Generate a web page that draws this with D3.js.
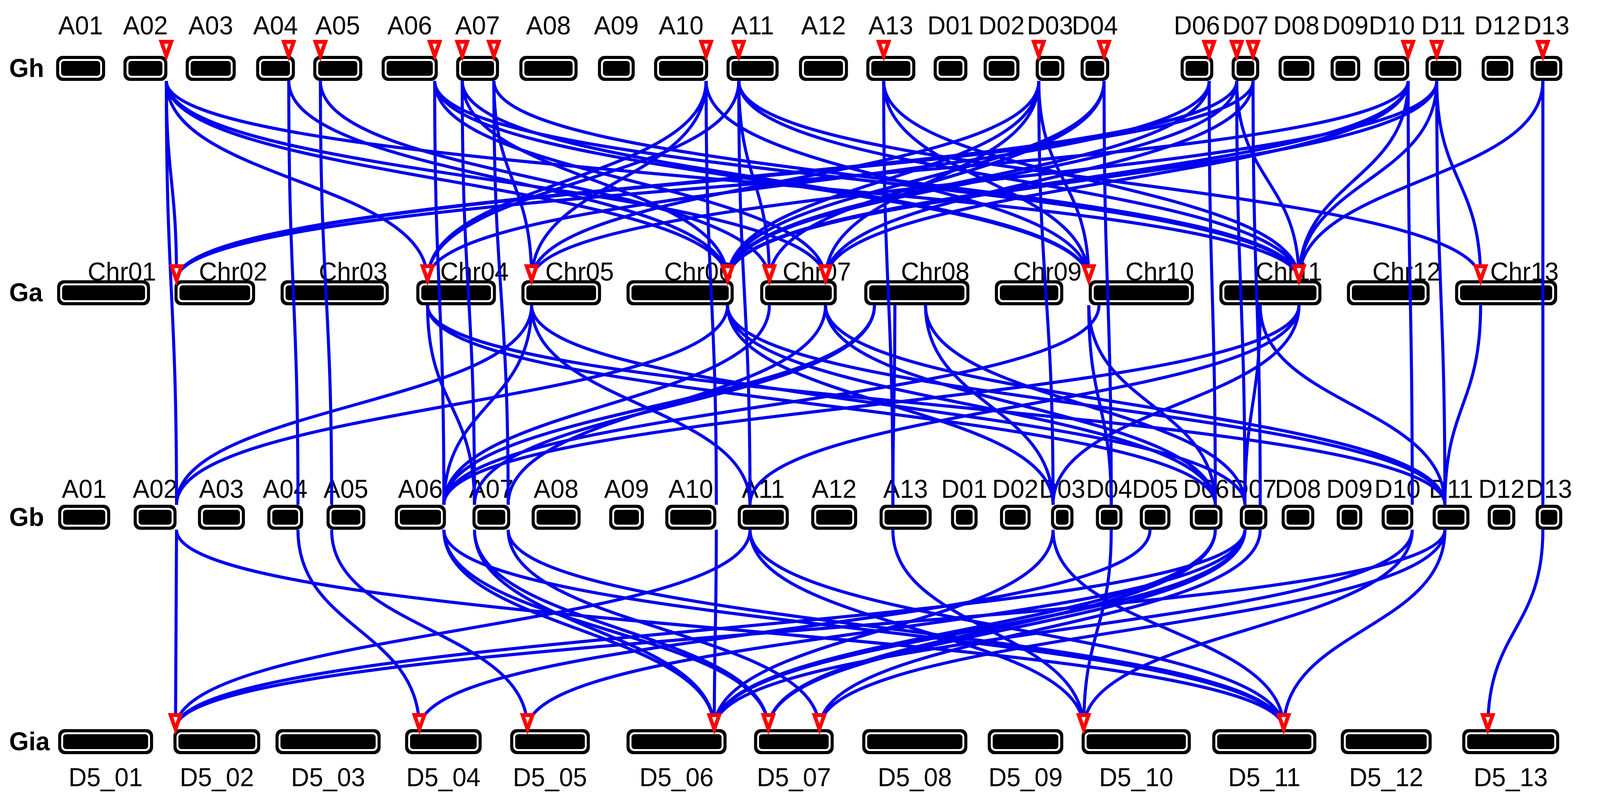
<!DOCTYPE html>
<html><head><meta charset="utf-8">
<script src="https://cdn.jsdelivr.net/npm/d3@7"></script>
<style>html,body{margin:0;padding:0;background:#fff;overflow:hidden;width:100%;height:100%}svg{display:block;width:100vw;height:100vh}</style>
</head><body>
<script>
// ---- data: chromosome layout (genome-layout units, start/end) ----
const genomes = ["Gh","Ga","Gb","Gia"];
const ghChr = [["A01",55,103],["A02",121,164],["A03",182,231],["A04",251,289],["A05",307,355],["A06",374,429],["A07",447,489],["A08",509,566],["A09",586,622],["A10",641,694],["A11",712,763],["A12",783,831],["A13",849,897],["D01",915,948],["D02",964,999],["D03",1015,1043],["D04",1059,1087],["D06",1157,1189],["D07",1207,1234],["D08",1253,1288],["D09",1304,1333],["D10",1347,1381],["D11",1397,1432],["D12",1452,1483],["D13",1500,1531]];
const gaChr = [["Chr01",56,147],["Chr02",171,250],["Chr03",275,381],["Chr04",408,486],["Chr05",511,589],["Chr06",614,719],["Chr07",745,820],["Chr08",847,950],["Chr09",975,1042],["Chr10",1067,1170],["Chr11",1195,1295],["Chr12",1320,1401],["Chr13",1426,1526]];
const gbChr = [["A01",57,108],["A02",131,173],["A03",194,240],["A04",262,297],["A05",320,358],["A06",387,437],["A07",463,500],["A08",521,569],["A09",597,631],["A10",652,702],["A11",723,773],["A12",795,840],["A13",862,913],["D01",932,958],["D02",980,1010],["D03",1030,1052],["D04",1074,1100],["D05",1117,1147],["D06",1166,1198],["D07",1215,1242],["D08",1256,1288],["D09",1310,1335],["D10",1354,1385],["D11",1404,1440],["D12",1458,1485],["D13",1505,1531]];
const giaChr = [["D5_01",57,150],["D5_02",170,255],["D5_03",270,373],["D5_04",397,472],["D5_05",500,578],["D5_06",614,712],["D5_07",739,817],["D5_08",845,948],["D5_09",968,1042],["D5_10",1060,1167],["D5_11",1188,1290],["D5_12",1314,1403],["D5_13",1433,1528]];
const gaLabelShift = 18;

// ---- gene positions (offset within chromosome) ----
const ghGenes = {A02:42,A04:32,A05:7,A06:52,A07a:6,A07b:37,A10:51,A11:12,A13:17,D03:3,D04:23,D06:28,D07a:5,D07b:21,D10:33,D11:11,D13:12};
const gaGenes = {Chr02:2,Chr04:11,Chr05:10,Chr06:99,Chr07a:9,Chr07b:64,Chr08a:10,Chr08b:30,Chr08c:60,Chr10:0,Chr10b:10,Chr11:78,Chr11b:40,Chr13:25};
const gbGenes = {A02:42,A04:30,A05:5,A06:48,A07a:2,A07b:35,A10:50,A11:12,A13:13,D03:2,D04:15,D05:10,D06:25,D07a:5,D07b:20,D10:30,D11:12,D13:7};
const giaGenes = {D5_02:2,D5_04:14,D5_05:17,D5_06:86,D5_07a:14,D5_07b:64,D5_10:2,D5_11:70,D5_13:25};

const ghMarkers = Object.keys(ghGenes);
const gaMarkers = ["Chr02","Chr04","Chr05","Chr06","Chr07a","Chr07b","Chr10","Chr11","Chr13"];
const giaMarkers = Object.keys(giaGenes);

// ---- links ----
const ghGaLinks = [["A02","Chr02"],["A02","Chr04"],["A02","Chr06"],["A02","Chr07b"],["A02","Chr11"],["A04","Chr06"],["A05","Chr07a"],
 ["A06","Chr07b"],["A06","Chr10"],["A06","Chr11"],["A07a","Chr06"],["A07a","Chr10"],["A07b","Chr05"],["A07b","Chr11"],
 ["A10","Chr04"],["A10","Chr05"],["A10","Chr10"],["A11","Chr04"],["A11","Chr07a"],["A11","Chr11"],["A11","Chr13"],
 ["A13","Chr10"],["A13","Chr11"],["D03","Chr05"],["D03","Chr06"],["D03","Chr07b"],["D03","Chr10"],["D04","Chr06"],["D04","Chr07a"],
 ["D06","Chr04"],["D06","Chr06"],["D07a","Chr02"],["D07a","Chr06"],["D07a","Chr11"],["D07b","Chr02"],["D07b","Chr07b"],
 ["D10","Chr02"],["D10","Chr06"],["D10","Chr07b"],["D10","Chr11"],["D11","Chr05"],["D11","Chr06"],["D11","Chr11"],["D11","Chr13"],["D13","Chr11"]];
const ghGbLinks = [["A02","A02"],["A04","A04"],["A05","A05"],["A06","A06"],["A07a","A07a"],["A07b","A07b"],["A10","A10"],["A11","A11"],["A13","A13"],
 ["D03","D03"],["D04","D04"],["D06","D06"],["D07a","D07a"],["D07b","D07b"],["D10","D10"],["D11","D11"],["D13","D13"]];
const gaGbLinks = [["Chr04","A07a"],["Chr04","D06"],["Chr04","D11"],["Chr05","A02"],["Chr05","A06"],["Chr05","A11"],["Chr05","D07a"],
 ["Chr06","A02"],["Chr06","D03"],["Chr06","D06"],["Chr06","D11"],["Chr07a","A06"],["Chr07b","A07b"],["Chr07b","D06"],["Chr07b","D11"],
 ["Chr08b","A13"],["Chr08a","A06"],["Chr08a","A07a"],["Chr08c","D03"],["Chr08c","D07a"],["Chr10","D04"],["Chr10","D06"],["Chr10b","A06"],
 ["Chr11","A11"],["Chr11","D03"],["Chr11b","D07a"],["Chr11b","D11"],["Chr11","A06"],["Chr13","D11"]];
const gbGiaLinks = [["A02","D5_02"],["A02","D5_11"],["A04","D5_04"],["A05","D5_05"],["A06","D5_07a"],["A06","D5_11"],["A06","D5_06"],
 ["A07a","D5_06"],["A07a","D5_07a"],["A07b","D5_07b"],["A07b","D5_11"],["A10","D5_06"],["A11","D5_02"],["A11","D5_10"],["A11","D5_11"],
 ["A13","D5_10"],["D03","D5_06"],["D03","D5_11"],["D04","D5_10"],["D05","D5_04"],["D06","D5_06"],["D06","D5_07a"],
 ["D07a","D5_02"],["D07a","D5_05"],["D07a","D5_06"],["D07b","D5_07b"],["D07a","D5_07a"],["D10","D5_10"],["D10","D5_06"],
 ["D11","D5_02"],["D11","D5_11"],["D11","D5_07b"],["D13","D5_13"]];

// ---- drawing ----
const W = 4197, H = 2055;
const x = d3.scaleLinear().domain([0,1568]).range([0,W]);
const y = d3.scalePoint().domain(genomes).range([175,1898]);
const chrH = 64;
const svg = d3.select("body").append("svg").attr("viewBox",`0 0 ${W} ${H}`).attr("preserveAspectRatio","none");
const FONT = "Liberation Sans, Arial, sans-serif";

const layouts = {Gh:ghChr, Ga:gaChr, Gb:gbChr, Gia:giaChr};
const genes = {Gh:ghGenes, Ga:gaGenes, Gb:gbGenes, Gia:giaGenes};
const chrMap = {};
genomes.forEach(g => { chrMap[g] = {}; layouts[g].forEach(c => chrMap[g][c[0]] = c); });
function geneX(g, key){
  const chr = key.replace(/[a-c]$/, "");
  return x(chrMap[g][chr][1] + genes[g][key]);
}

// chromosomes
genomes.forEach(g => {
  const row = svg.append("g");
  row.selectAll("g.chr").data(layouts[g]).join("g").each(function(c){
    const gg = d3.select(this);
    const x0 = x(c[1]), w = x(c[2]) - x(c[1]), yc = y(g);
    gg.append("rect").attr("x",x0).attr("y",yc-chrH/2).attr("width",w).attr("height",chrH).attr("rx",17).attr("fill","#000");
    gg.append("rect").attr("x",x0+8).attr("y",yc-chrH/2+8).attr("width",w-16).attr("height",chrH-16).attr("rx",12).attr("fill","#fff");
    gg.append("rect").attr("x",x0+13).attr("y",yc-chrH/2+13).attr("width",w-26).attr("height",chrH-26).attr("rx",8).attr("fill","#000");
  });
  svg.append("text").attr("x",24).attr("y",y(g)+22).attr("font-family",FONT).attr("font-weight","bold")
    .attr("font-size",66).text(g);
});

// labels
const labelY = {Gh:88, Ga:718, Gb:1274, Gia:2012};
genomes.forEach(g => {
  svg.append("g").selectAll("text").data(layouts[g]).join("text")
    .attr("x", c => x((c[1]+c[2])/2 + (g==="Ga"?gaLabelShift:0)))
    .attr("y", labelY[g]).attr("text-anchor","middle").attr("font-family",FONT).attr("font-size",66)
    .text(c => c[0]);
});

// links
const linkG = svg.append("g").attr("fill","none").attr("stroke","#0000ee").attr("stroke-width",8);
function addLinks(list, gs, gt){
  list.forEach(([s,t]) => {
    const x1 = geneX(gs,s), y1 = y(gs)+chrH/2;
    const x2 = geneX(gt,t), y2 = y(gt)-chrH/2;
    const ym = (y1+y2)/2;
    const p = d3.path(); p.moveTo(x1,y1); p.bezierCurveTo(x1,ym,x2,ym,x2,y2);
    linkG.append("path").attr("d",p.toString());
  });
}
addLinks(ghGaLinks,"Gh","Ga");
addLinks(ghGbLinks,"Gh","Gb");
addLinks(gaGbLinks,"Ga","Gb");
addLinks(gbGiaLinks,"Gb","Gia");

// markers
function addMarkers(list, g){
  svg.append("g").selectAll("path").data(list).join("path")
    .attr("d", k => { const cx = geneX(g,k), ty = y(g)-chrH/2; return `M${cx-13},${ty-36}L${cx+13},${ty-36}L${cx},${ty}Z`; })
    .attr("fill","#fff").attr("stroke","#ff0000").attr("stroke-width",10).attr("stroke-linejoin","miter");
}
addMarkers(ghMarkers,"Gh");
addMarkers(gaMarkers,"Ga");
addMarkers(giaMarkers,"Gia");
</script>
</body></html>
